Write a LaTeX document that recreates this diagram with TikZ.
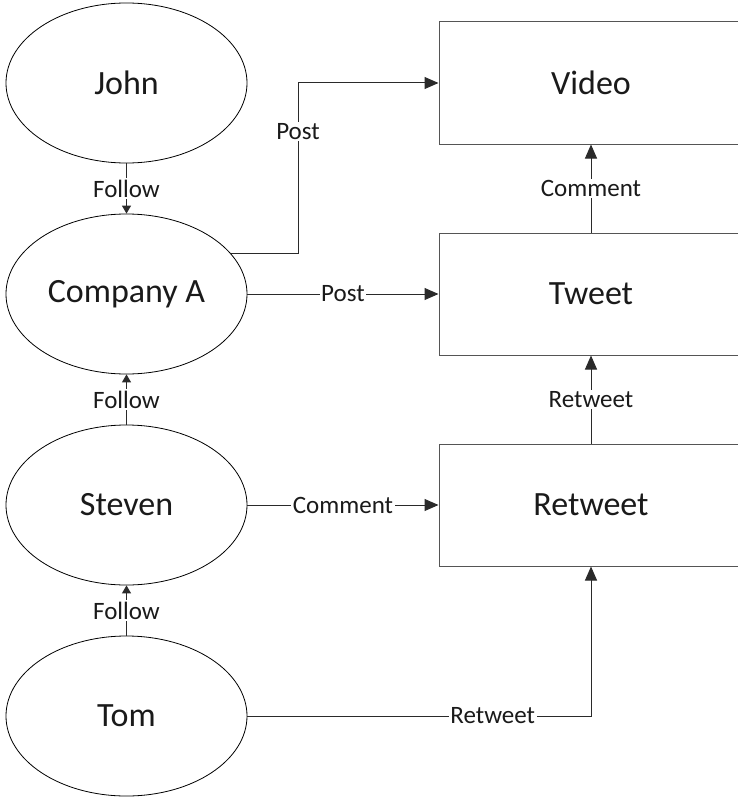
\documentclass[tikz,border=0pt]{standalone}
\usepackage{fontspec}
\setmainfont{Carlito}
\usetikzlibrary{shapes.geometric,arrows.meta}
\definecolor{ink}{HTML}{1A1A1A}
\definecolor{edge}{HTML}{2A2A2A}
\begin{document}
\begin{tikzpicture}[x=1pt,y=-1pt,
  actor/.style={ellipse,draw=black,line width=0.8pt,minimum width=241pt,minimum height=160pt,
    inner sep=0pt,text=ink,font=\fontsize{34}{40}\selectfont},
  item/.style={rectangle,draw=edge!80,line width=1pt,minimum width=304pt,minimum height=122pt,
    inner sep=0pt,text=ink,font=\fontsize{34}{40}\selectfont},
  link/.style={draw=edge,line width=1pt,-{Triangle[length=14pt,width=12pt]}},
  follow/.style={draw=edge,line width=1pt,-{Triangle[length=8pt,width=9pt]}},
  lbl/.style={fill=white,text=ink,inner sep=1.5pt,font=\fontsize{25}{29}\selectfont}]
\useasboundingbox (0,0) rectangle (738,797);

% users and company
\node[actor] (john)  at (126.5,83)  {John};
\node[actor] (ca)    at (126.5,294) {Company A};
\node[actor] (steven) at (126.5,505) {Steven};
\node[actor] (tom)   at (126.5,716) {Tom};

% content items
\node[item] (video)   at (591,83)  {Video};
\node[item] (tweet)   at (591,294) {Tweet};
\node[item] (retweet) at (591,505) {Retweet};

\coordinate (bend) at (298,83);

% follow relations
\draw[follow] (john.south) -- node[lbl] {Follow} (ca.north);
\draw[follow] (steven.north) -- node[lbl] {Follow} (ca.south);
\draw[follow] (tom.north) -- node[lbl] {Follow} (steven.south);

% posting, commenting and retweeting
\draw[link] (ca.21) -| node[lbl,pos=0.857] {Post} (bend) -- (video.west);
\draw[link] (ca.east) -- node[lbl] {Post} (tweet.west);
\draw[link] (steven.east) -- node[lbl] {Comment} (retweet.west);
\draw[link] (tom.east) -| node[lbl,pos=0.357] {Retweet} (retweet.south);
\draw[link] (tweet.north) -- node[lbl] {Comment} (video.south);
\draw[link] (retweet.north) -- node[lbl] {Retweet} (tweet.south);
\end{tikzpicture}
\end{document}
